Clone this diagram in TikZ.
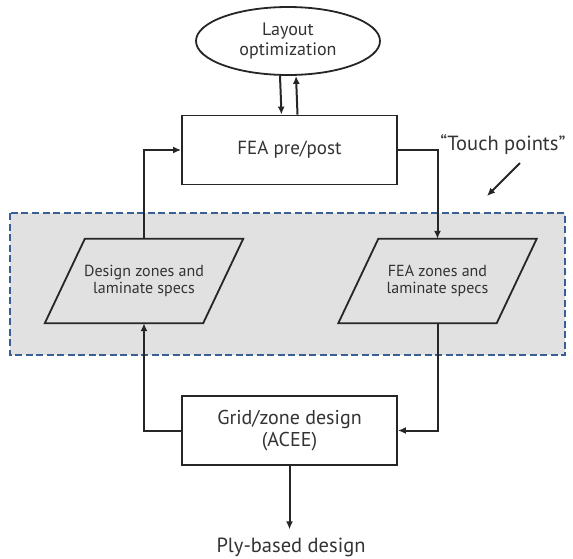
\documentclass[tikz,border=0pt]{standalone}
\usepackage{fontspec}
\setmainfont{PT Sans}
\usetikzlibrary{shapes.geometric,arrows.meta,calc}
\definecolor{ink}{HTML}{262626}
\definecolor{txt}{HTML}{333333}
\definecolor{zoneblue}{HTML}{3A5E96}
\definecolor{zonegray}{HTML}{E1E1E1}
\tikzset{
  stroke/.style={draw=ink, line width=1.8pt},
  arr/.style={draw=ink, line width=2pt, -{Latex[length=8pt,width=7pt]}},
  procbox/.style={stroke, fill=white, minimum width=215pt, minimum height=69pt,
    inner sep=0pt, font=\fontsize{20}{21.5}\selectfont, text=txt, align=center},
  databox/.style={inner sep=0pt, minimum width=158pt, minimum height=84pt,
    font=\fontsize{16}{17.5}\selectfont, text=txt, align=center},
  plain/.style={inner sep=0pt, font=\fontsize{20.5}{22}\selectfont, text=txt, align=center}
}
\begin{document}
\begin{tikzpicture}[x=1pt,y=-1pt]
\useasboundingbox (0,0) rectangle (573,558);

% touch-point zone
\draw[draw=zoneblue, fill=zonegray, line width=2.4pt, dash pattern=on 7pt off 3.5pt]
  (10,213) rectangle (565,355);

% process and terminal nodes
\node[stroke, ellipse, fill=white, minimum width=184pt, minimum height=68pt, inner sep=0pt,
  font=\fontsize{18}{20.5}\selectfont, text=txt, align=center] (lay) at (288,41) {Layout\\optimization};
\node[procbox, font=\fontsize{19}{21}\selectfont] (fea) at (289.5,150) {FEA pre/post};
\node[procbox] (grid) at (289.5,430.5) {Grid/zone design\\(ACEE)};
\node[plain] (ply) at (291,547) {Ply-based design};
\node[plain] (tp) at (503,145) {“Touch points”};

% data nodes (parallelograms)
\node[databox] (dz) at (144,281) {Design zones and\\laminate specs};
\node[databox] (fz) at (437.5,281) {FEA zones and\\laminate specs};
\foreach \n in {dz,fz}{
  \draw[stroke, line join=miter]
    ([xshift=-20pt]\n.south west) -- ([xshift=20pt]\n.north west)
    -- ([xshift=20pt]\n.north east) -- ([xshift=-20pt]\n.south east) -- cycle;
}

% connectors
\draw[arr] ([xshift=-8pt]lay.south) -- ([xshift=-8pt]fea.north);
\draw[arr] ([xshift=8pt]fea.north) -- ([xshift=8pt]lay.south);
\draw[arr] (dz.north) |- (fea.west);
\draw[arr] (fea.east) -| (fz.north);
\draw[arr] (fz.south) |- (grid.east);
\draw[arr] (grid.west) -| (dz.south);
\draw[arr, shorten >=8pt] (grid.south) -- (grid.south |- ply.north);
\coordinate (tpa) at (520,163);
\coordinate (tpb) at (487,196);
\draw[arr] (tpa) -- (tpb);
\end{tikzpicture}
\end{document}
